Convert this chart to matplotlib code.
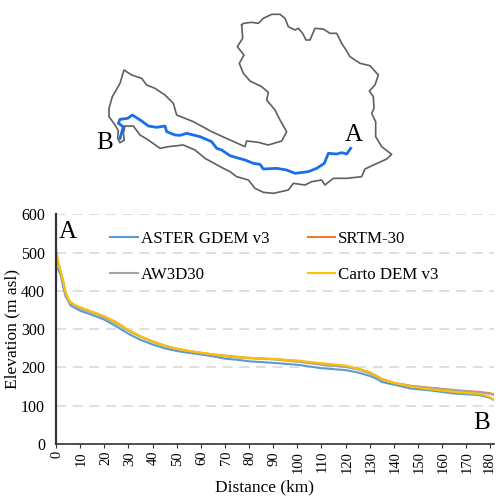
import matplotlib
matplotlib.use("Agg")
import matplotlib.pyplot as plt
from matplotlib.transforms import ScaledTranslation

plt.rcParams['font.family'] = ['Liberation Serif', 'DejaVu Serif']

# map outline and river (3x pixel units)
basin_x = [545,550,575,595,610,635,660,675,685,705,715,728,738,750,765,790,810,830,845,855,870,900,930,955,945,928,940,942,935,947,947,965,995,980,945,915,905,860,820,795,785,755,735,700,685,640,610,585,565,530,510,490,435,405,370,325,300,265,240,220,195,190,193,180,173,175,165,147,147,157,180,192,215,245,260,285,315,340,350,400,455,510,555,560,595,625,665,680,660,645,620,625,605,570,550,538,552,532,548,545]
basin_y = [75,70,67,70,55,43,43,55,80,90,85,100,120,120,85,87,100,100,130,145,170,190,197,225,255,273,290,325,340,365,410,440,463,477,493,507,530,535,535,555,540,545,555,550,570,580,577,565,540,530,515,505,475,450,435,440,445,420,405,378,378,400,420,428,415,392,375,350,325,290,250,210,225,235,255,265,285,310,345,365,395,420,440,423,427,435,423,395,360,330,300,277,260,243,220,190,165,140,115,75]
river_x = [872,860,845,830,805,793,770,745,705,680,650,610,600,580,555,530,510,485,470,455,420,400,380,360,345,320,315,290,265,245,217,203,180,175,190,180]
river_y = [445,462,458,462,460,490,505,515,520,510,505,507,493,490,480,473,467,450,445,425,410,405,400,406,405,395,378,382,378,363,345,355,358,370,380,415]

# elevation profiles
dist = [0,1,2,3,4,5,6,8,10,15,20,25,30,35,40,45,50,55,60,65,70,75,80,90,100,110,120,125,130,133,135,140,147,155,165,175,178,180,181.5]
aster = [460,455,440,410,385,375,362,355,348,337,325,307,288,272,260,250,243,238,234,229,223,220,216,212,207,198,193,187,178,170,162,155,145,140,132,128,124,120,115]
srtm = [500,470,448,425,395,378,370,362,356,345,333,318,297,281,268,257,249,243,238,234,231,228,225,222,217,208,203,197,187,177,170,160,152,147,141,136,134,132,130]
aw3d = [495,465,445,420,392,378,368,360,354,343,331,314,296,280,267,256,248,242,237,233,229,226,224,221,215,207,201,195,185,175,168,159,151,146,140,135,133,131,128]
carto = [510,475,450,425,395,380,370,362,357,345,334,317,298,281,268,257,249,243,239,234,230,227,225,222,218,211,205,197,188,177,169,160,150,143,136,131,127,122,115]

yticks = [0,100,200,300,400,500,600]
xticks = list(range(0,181,10))

fig = plt.figure(figsize=(4.96,5.0), dpi=100)

# map drawn on an axes over the whole figure
mp = fig.add_axes([0,0,1,1])
mp.set_xlim(-180,1308)
mp.set_ylim(1500,0)
mp.axis('off')
mp.plot(basin_x, basin_y, color="#5f5f5f", lw=1.2)
mp.plot(river_x, river_y, color="#1a6fe8", lw=2.0)
mp.text(880, 405, "A", fontsize=18, ha='center', va='center')
mp.text(133, 430, "B", fontsize=18, ha='center', va='center')

ax = fig.add_axes([56/496, 1-444/500, (494-56)/496, (444-214.3)/500])
ax.patch.set_alpha(0)
ax.plot(dist, aster, color="#5B9BD5", lw=1.5, label="ASTER GDEM v3")
ax.plot(dist, srtm, color="#ED7D31", lw=1.5, label="SRTM-30")
ax.plot(dist, aw3d, color="#A5A5A5", lw=1.5, label="AW3D30")
ax.plot(dist, carto, color="#FFC000", lw=1.5, label="Carto DEM v3")
ax.set_xlim(0,181.5)
ax.set_ylim(0,600)
ax.set_xticks(xticks)
ax.set_yticks(yticks)
ax.tick_params(axis='x', labelsize=10.5, rotation=90, length=3, pad=2, color="#333333")
ax.tick_params(axis='y', labelsize=11.5, length=0, pad=8)
# nudge the rotated labels onto their ticks, last one stays inside the figure
shift = ScaledTranslation(1.2/100, 0, fig.dpi_scale_trans)
last_shift = ScaledTranslation(-1.5/100, 0, fig.dpi_scale_trans)
labels = ax.get_xticklabels()
for t in labels[:-1]:
    t.set_transform(t.get_transform() + shift)
labels[-1].set_transform(labels[-1].get_transform() + last_shift)
ax.grid(True, axis='y', color="#d9d9d9", lw=1.2, ls=(0,(6,4)))
ax.set_axisbelow(True)
for s in ['top','right']:
    ax.spines[s].set_visible(False)
ax.spines['left'].set_linewidth(1.6)
ax.spines['bottom'].set_linewidth(1.2)
ax.spines['left'].set_color("#333333")
ax.spines['bottom'].set_color("#333333")
ax.set_xlabel("Distance (km)", fontsize=12.5, labelpad=5, x=0.476)
ax.set_ylabel("Elevation (m asl)", fontsize=12.5, labelpad=0)

h, l = ax.get_legend_handles_labels()
order = [0,2,1,3]
ax.legend([h[i] for i in order], [l[i] for i in order], ncol=2, frameon=False,
          loc='upper left', bbox_to_anchor=(0.0895,0.992), fontsize=12.2,
          labelspacing=1.17, columnspacing=2.25, handlelength=1.6, handletextpad=0.2)

ax.text(1, 555, "A", fontsize=18, ha='left', va='center')
ax.text(176.5, 56, "B", fontsize=18, ha='center', va='center')

fig.savefig("out.png", dpi=100)
